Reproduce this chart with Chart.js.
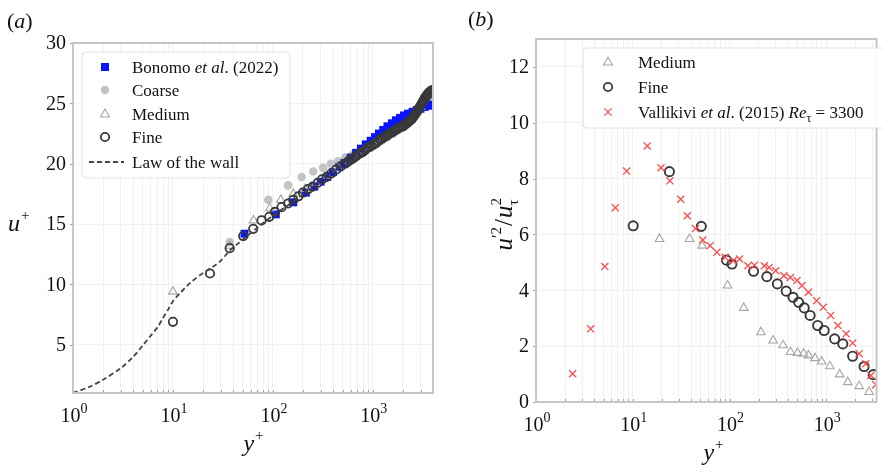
<!DOCTYPE html>
<html><head><meta charset="utf-8">
<script src="https://cdn.jsdelivr.net/npm/chart.js@4.4.0/dist/chart.umd.min.js"></script>
<style>
html,body{margin:0;padding:0;background:#fff;overflow:hidden;}
#wrap{position:relative;width:883px;height:466px;overflow:hidden;}
canvas{position:absolute;top:0;}
</style></head><body>
<div id="wrap"><canvas id="ca" width="440" height="466" style="left:0"></canvas><canvas id="cb" width="443" height="466" style="left:440px"></canvas></div>
<script>
// ---------------- Panel (a) data ----------------
const xMajorA = [1, 10, 100, 1000];
const xLabelsA = ['0', '1', '2', '3'];
const yTicksA = [5, 10, 15, 20, 25, 30];

const lawY = [1, 1.5, 2, 3, 4, 5, 6, 7, 8, 9, 10, 12, 15, 20, 25, 30, 37, 45, 55, 70, 100, 150, 220];
const lawU = [1, 1.55, 2.1, 3.05, 4.0, 4.95, 5.75, 6.45, 7.25, 7.95, 8.6, 9.35, 10.15, 10.95, 11.45, 11.95, 12.8, 13.4, 14.0, 14.7, 15.7, 16.7, 17.7];

const bonomoY = [52, 107, 160, 214, 260, 300, 350, 400, 460, 520, 600, 680, 760, 850, 950, 1050, 1150, 1270, 1400, 1550, 1700, 1870, 2050, 2250, 2500, 2750, 3000, 3300, 3600, 3950];
const bonomoU = [14.2, 15.8, 16.8, 17.6, 18.1, 18.5, 18.9, 19.3, 19.7, 20.05, 20.5, 20.9, 21.25, 21.6, 21.9, 22.2, 22.5, 22.8, 23.1, 23.35, 23.6, 23.8, 24.0, 24.15, 24.3, 24.45, 24.55, 24.7, 24.8, 24.9];

const coarseY = [37, 90, 142, 194, 253, 318, 380, 450, 530, 620, 720, 830, 950, 1080, 1230, 1400, 1600, 1800, 2050, 2300, 2600, 2900, 3200, 3500, 3800, 4000];
const coarseU = [13.5, 17.0, 18.2, 18.9, 19.35, 19.65, 20.0, 20.2, 20.5, 20.7, 20.9, 21.1, 21.3, 21.6, 21.9, 22.2, 22.5, 22.8, 23.1, 23.5, 23.9, 24.4, 24.9, 25.3, 25.6, 25.8];

const mediumY = [10, 37, 64, 93, 120, 160, 210, 270, 350, 450, 580, 750, 950, 1200, 1500, 1900, 2400, 3000, 3600, 4000];
const mediumU = [9.4, 13.2, 15.3, 16.3, 17.0, 17.5, 17.9, 18.4, 19.0, 19.6, 20.2, 20.8, 21.4, 22.0, 22.5, 23.0, 23.7, 24.7, 25.6, 26.0];

const fineY = [10, 23.5, 37, 50.5, 63.6, 77, 92, 105, 122, 142, 160, 180, 200, 225, 250, 280, 310, 345, 385, 430, 480, 530, 560, 590, 620, 650, 685, 720, 760, 800, 840, 880, 925, 970, 1020, 1070, 1125, 1180, 1240, 1300, 1360, 1420, 1485, 1550, 1625, 1700, 1775, 1850, 1925, 2000, 2075, 2150, 2225, 2300, 2375, 2450, 2525, 2600, 2675, 2750, 2825, 2900, 2975, 3050, 3125, 3200, 3275, 3350, 3425, 3500, 3575, 3650, 3725, 3800, 3875, 3950];
const fineU = [6.9, 10.9, 13.0, 14.0, 14.6, 15.3, 15.6, 16.0, 16.4, 16.7, 17.0, 17.3, 17.6, 17.9, 18.1, 18.4, 18.7, 18.9, 19.2, 19.5, 19.8, 20.0, 20.15, 20.3, 20.4, 20.5, 20.65, 20.8, 20.9, 21.0, 21.15, 21.3, 21.4, 21.5, 21.6, 21.7, 21.85, 22.0, 22.1, 22.2, 22.3, 22.4, 22.5, 22.6, 22.7, 22.8, 22.9, 23.0, 23.05, 23.1, 23.2, 23.3, 23.4, 23.5, 23.6, 23.7, 23.85, 24.0, 24.15, 24.3, 24.45, 24.6, 24.75, 24.9, 25.05, 25.2, 25.35, 25.5, 25.6, 25.7, 25.8, 25.9, 25.95, 26.0, 26.05, 26.1];

// ---------------- Panel (b) data ----------------
const xMajorB = [1, 10, 100, 1000];
const xLabelsB = ['0', '1', '2', '3'];
const yTicksB = [0, 2, 4, 6, 8, 10, 12];

const medBY = [18.9, 38.6, 52, 95.5, 140, 211, 282, 357, 426, 503, 582, 653, 764, 893, 1086, 1371, 1667, 2188, 2766];
const medBV = [5.84, 5.84, 5.6, 4.17, 3.37, 2.5, 2.2, 2.03, 1.79, 1.76, 1.73, 1.67, 1.57, 1.45, 1.28, 0.99, 0.71, 0.57, 0.36];

const fineBY = [10.1, 23.9, 51.1, 93, 106, 177, 243, 312, 385, 453, 517, 591, 680, 814, 950, 1219, 1480, 1871, 2455, 3055];
const fineBV = [6.31, 8.25, 6.29, 5.08, 4.94, 4.68, 4.49, 4.23, 3.97, 3.75, 3.57, 3.37, 3.10, 2.74, 2.56, 2.26, 2.08, 1.64, 1.27, 0.98];

const valY = [2.39, 3.67, 5.14, 6.6, 8.65, 14.1, 19.6, 24.2, 31.3, 36.6, 44.5, 53, 63, 74, 90, 109, 127, 155, 181, 229, 257, 300, 365, 426, 498, 560, 655, 795, 929, 1111, 1318, 1603, 1871, 2188, 2561, 2884, 3250];
const valV = [1.01, 2.62, 4.85, 6.96, 8.27, 9.17, 8.39, 7.92, 7.26, 6.67, 6.21, 5.8, 5.6, 5.36, 5.18, 5.06, 5.12, 4.88, 4.9, 4.88, 4.82, 4.7, 4.52, 4.46, 4.35, 4.17, 3.93, 3.63, 3.39, 3.10, 2.74, 2.44, 2.11, 1.73, 1.37, 0.95, 0.62];

// ---------------- helpers ----------------
const SERIF = '"Liberation Serif", "Times New Roman", serif';
const C_BLUE = '#0a14ff', C_COARSE = '#c3c3c3', C_MED = '#a6a6a6', C_FINE = '#383838', C_RED = '#ff4a4a';
const GRID = '#f1f1f1';
const pts = (xs, ys) => xs.map((x, i) => ({x: x, y: ys[i]}));
function fontOf(s) { return (s.italic ? 'italic ' : '') + s.size + 'px ' + SERIF; }
function drawRich(ctx, x, y, segs, align) {
  let total = 0; const ws = [];
  segs.forEach(s => { ctx.font = fontOf(s); const w = ctx.measureText(s.t).width; ws.push(w); if (!s.stack) total += w; });
  let cx = align === 'center' ? x - total / 2 : (align === 'right' ? x - total : x);
  ctx.textBaseline = 'alphabetic';
  segs.forEach((s, i) => { ctx.font = fontOf(s); ctx.fillText(s.t, cx + (s.dx || 0), y + (s.dy || 0)); if (!s.stack) cx += ws[i]; });
}
function minorTicks(majors, max) {
  const out = [];
  majors.forEach(d => { for (let k = 1; k <= 9; k++) { if (k * d <= max * 1.0001) out.push(k * d); } });
  return out;
}
function marker(ctx, type, x, y, color) {
  ctx.save();
  ctx.beginPath();
  if (type === 'square') { ctx.fillStyle = color; ctx.fillRect(x - 4, y - 4, 8, 8); }
  else if (type === 'dot') { ctx.fillStyle = color; ctx.arc(x, y, 4.2, 0, Math.PI * 2); ctx.fill(); }
  else if (type === 'circle') { ctx.strokeStyle = color; ctx.lineWidth = 1.8; ctx.arc(x, y, 4.2, 0, Math.PI * 2); ctx.stroke(); }
  else if (type === 'tri') { ctx.strokeStyle = color; ctx.lineWidth = 1.1; ctx.moveTo(x, y - 5); ctx.lineTo(x + 4.5, y + 3); ctx.lineTo(x - 4.5, y + 3); ctx.closePath(); ctx.stroke(); }
  else if (type === 'cross') { ctx.strokeStyle = color; ctx.lineWidth = 1.3; ctx.moveTo(x - 3.6, y - 3.6); ctx.lineTo(x + 3.6, y + 3.6); ctx.moveTo(x + 3.6, y - 3.6); ctx.lineTo(x - 3.6, y + 3.6); ctx.stroke(); }
  else if (type === 'dash') { ctx.strokeStyle = color; ctx.lineWidth = 1.8; ctx.setLineDash([5, 3]); ctx.moveTo(x - 16, y); ctx.lineTo(x + 19, y); ctx.stroke(); }
  ctx.restore();
}
function roundBox(ctx, x, y, w, h, r) {
  ctx.save();
  ctx.beginPath();
  ctx.moveTo(x + r, y); ctx.lineTo(x + w - r, y); ctx.quadraticCurveTo(x + w, y, x + w, y + r);
  ctx.lineTo(x + w, y + h - r); ctx.quadraticCurveTo(x + w, y + h, x + w - r, y + h);
  ctx.lineTo(x + r, y + h); ctx.quadraticCurveTo(x, y + h, x, y + h - r);
  ctx.lineTo(x, y + r); ctx.quadraticCurveTo(x, y, x + r, y); ctx.closePath();
  ctx.fillStyle = 'rgba(255,255,255,0.9)'; ctx.fill();
  ctx.strokeStyle = '#e2e2e2'; ctx.lineWidth = 1; ctx.stroke();
  ctx.restore();
}
function decorate(chart, cfg) {
  const ctx = chart.ctx, a = chart.chartArea, xs = chart.scales.x, ys = chart.scales.y;
  ctx.save();
  ctx.strokeStyle = '#a0a0a0'; ctx.lineWidth = 1;
  cfg.minor.forEach(v => { const px = Math.round(xs.getPixelForValue(v)) + 0.5; ctx.beginPath(); ctx.moveTo(px, a.bottom); ctx.lineTo(px, a.bottom - 3); ctx.stroke(); });
  cfg.yTicks.forEach(v => { const py = Math.round(ys.getPixelForValue(v)) + 0.5; ctx.beginPath(); ctx.moveTo(a.left - 3, py); ctx.lineTo(a.left, py); ctx.stroke(); });
  ctx.strokeStyle = '#c6c6c6'; ctx.lineWidth = 2;
  ctx.strokeRect(a.left, a.top, a.right - a.left, a.bottom - a.top);
  ctx.fillStyle = '#111';
  cfg.yTicks.forEach(v => {
    ctx.font = '20px ' + SERIF; ctx.textAlign = 'right'; ctx.textBaseline = 'middle';
    ctx.fillText(String(v), a.left - 7, ys.getPixelForValue(v) + 1);
  });
  ctx.textAlign = 'left';
  cfg.xMajor.forEach((v, i) => {
    drawRich(ctx, xs.getPixelForValue(v) + 1, a.bottom + 29, [{t: '10', size: 20}, {t: cfg.xLabels[i], size: 14, dy: -9}], 'center');
  });
  ctx.restore();
}

// ---------------- Panel (a) ----------------
const minorA = minorTicks(xMajorA, 4000);
const plugA = {
  id: 'decorA',
  afterDraw(chart) {
    const ctx = chart.ctx;
    decorate(chart, {minor: minorA, yTicks: yTicksA, xMajor: xMajorA, xLabels: xLabelsA});
    ctx.save(); ctx.fillStyle = '#111';
    drawRich(ctx, 7, 28, [{t: '(', size: 22}, {t: 'a', size: 22, italic: true}, {t: ')', size: 22}]);
    drawRich(ctx, 8, 231, [{t: 'u', size: 24, italic: true}, {t: '+', size: 15, dy: -11, dx: 1}]);
    drawRich(ctx, 253, 451, [{t: 'y', size: 24, italic: true}, {t: '+', size: 15, dy: -11, dx: 1}], 'center');
    roundBox(ctx, 82, 52, 208, 126, 4);
    const lx = 105, tx = 132;
    const rows = [
      {m: 'square', c: C_BLUE, y: 67, segs: [{t: 'Bonomo ', size: 17}, {t: 'et al', size: 17, italic: true}, {t: '. (2022)', size: 17}]},
      {m: 'dot', c: C_COARSE, y: 90, segs: [{t: 'Coarse', size: 17}]},
      {m: 'tri', c: C_MED, y: 114, segs: [{t: 'Medium', size: 17}]},
      {m: 'circle', c: C_FINE, y: 137, segs: [{t: 'Fine', size: 17}]},
      {m: 'dash', c: '#444', y: 162, segs: [{t: 'Law of the wall', size: 17}]}
    ];
    rows.forEach(r => { marker(ctx, r.m, lx, r.y, r.c); ctx.fillStyle = '#111'; drawRich(ctx, tx, r.y + 6, r.segs); });
    ctx.restore();
  }
};

function logX(min, max, majors) {
  const mt = minorTicks(majors, max);
  return {
    type: 'logarithmic', min: min, max: max,
    afterBuildTicks: s => { s.ticks = mt.map(v => ({value: v})); },
    ticks: {display: false}, border: {display: false},
    grid: {color: GRID, lineWidth: 1, drawTicks: false}
  };
}
function linY(min, max, ticks) {
  return {
    type: 'linear', min: min, max: max,
    afterBuildTicks: s => { s.ticks = ticks.map(v => ({value: v})); },
    ticks: {display: false}, border: {display: false},
    grid: {color: GRID, lineWidth: 1, drawTicks: false}
  };
}

new Chart(document.getElementById('ca'), {
  type: 'scatter',
  data: {datasets: [
    {label: 'Law of the wall', data: pts(lawY, lawU), showLine: true, borderColor: '#444', borderWidth: 1.8, borderDash: [5, 3], pointRadius: 0, order: -1, tension: 0.3},
    {label: 'Fine', data: pts(fineY, fineU), pointStyle: 'circle', pointRadius: 4.2, borderColor: C_FINE, backgroundColor: 'rgba(0,0,0,0)', borderWidth: 1.8, order: 0},
    {label: 'Medium', data: pts(mediumY, mediumU), pointStyle: 'triangle', pointRadius: 5, borderColor: C_MED, backgroundColor: 'rgba(0,0,0,0)', borderWidth: 1.1, order: 1},
    {label: 'Bonomo et al. (2022)', data: pts(bonomoY, bonomoU), pointStyle: 'rect', pointRadius: 5.6, borderWidth: 0, borderColor: C_BLUE, backgroundColor: C_BLUE, order: 2},
    {label: 'Coarse', data: pts(coarseY, coarseU), pointStyle: 'circle', pointRadius: 4.3, borderWidth: 0, borderColor: C_COARSE, backgroundColor: C_COARSE, order: 3}
  ]},
  options: {
    responsive: false, animation: false, devicePixelRatio: 1,
    layout: {padding: {left: 73, top: 43, right: 7, bottom: 73}},
    plugins: {legend: {display: false}, tooltip: {enabled: false}},
    scales: {x: logX(1, 4000, xMajorA), y: linY(1, 30, yTicksA)}
  },
  plugins: [plugA]
});

// ---------------- Panel (b) ----------------
const minorB = minorTicks(xMajorB, 3300);
const plugB = {
  id: 'decorB',
  afterDraw(chart) {
    const ctx = chart.ctx;
    decorate(chart, {minor: minorB, yTicks: yTicksB, xMajor: xMajorB, xLabels: xLabelsB});
    ctx.save(); ctx.fillStyle = '#111';
    drawRich(ctx, 28, 26, [{t: '(', size: 22}, {t: 'b', size: 22, italic: true}, {t: ')', size: 22}]);
    drawRich(ctx, 273, 460, [{t: 'y', size: 24, italic: true}, {t: '+', size: 15, dy: -11, dx: 1}], 'center');
    ctx.save();
    ctx.translate(72, 226);
    ctx.rotate(-Math.PI / 2);
    drawRich(ctx, 0, 0, [
      {t: 'u', size: 25, italic: true}, {t: '\u2032', size: 17, dy: -9}, {t: '2', size: 15, dy: -11},
      {t: '/', size: 25, dx: 1}, {t: 'u', size: 25, italic: true, dx: 2}, {t: '2', size: 15, dy: -11, stack: true, dx: 2}, {t: '\u03c4', size: 15, dy: 6, dx: 2}
    ], 'center');
    ctx.restore();
    roundBox(ctx, 143, 48, 320, 80, 4);
    const lx = 168, tx = 198;
    const rows = [
      {m: 'tri', c: C_MED, y: 62, segs: [{t: 'Medium', size: 17}]},
      {m: 'circle', c: C_FINE, y: 87, segs: [{t: 'Fine', size: 17}]},
      {m: 'cross', c: C_RED, y: 112, segs: [{t: 'Vallikivi ', size: 17}, {t: 'et al', size: 17, italic: true}, {t: '. (2015) ', size: 17}, {t: 'Re', size: 17, italic: true}, {t: '\u03c4', size: 12, dy: 4}, {t: ' = 3300', size: 17}]}
    ];
    rows.forEach(r => { marker(ctx, r.m, lx, r.y, r.c); ctx.fillStyle = '#111'; drawRich(ctx, tx, r.y + 6, r.segs); });
    ctx.restore();
  }
};

new Chart(document.getElementById('cb'), {
  type: 'scatter',
  data: {datasets: [
    {label: 'Vallikivi et al. (2015) Re_tau = 3300', data: pts(valY, valV), pointStyle: 'crossRot', pointRadius: 5, borderColor: C_RED, backgroundColor: C_RED, borderWidth: 1.3, order: 0},
    {label: 'Fine', data: pts(fineBY, fineBV), pointStyle: 'circle', pointRadius: 4.6, borderColor: C_FINE, backgroundColor: 'rgba(0,0,0,0)', borderWidth: 1.9, order: 1},
    {label: 'Medium', data: pts(medBY, medBV), pointStyle: 'triangle', pointRadius: 5, borderColor: C_MED, backgroundColor: 'rgba(0,0,0,0)', borderWidth: 1.1, order: 2}
  ]},
  options: {
    responsive: false, animation: false, devicePixelRatio: 1,
    layout: {padding: {left: 96, top: 39, right: 1, bottom: 64}},
    plugins: {legend: {display: false}, tooltip: {enabled: false}},
    scales: {x: logX(1, 3300, xMajorB), y: linY(0, 13, yTicksB)}
  },
  plugins: [plugB]
});
</script>
</body></html>
